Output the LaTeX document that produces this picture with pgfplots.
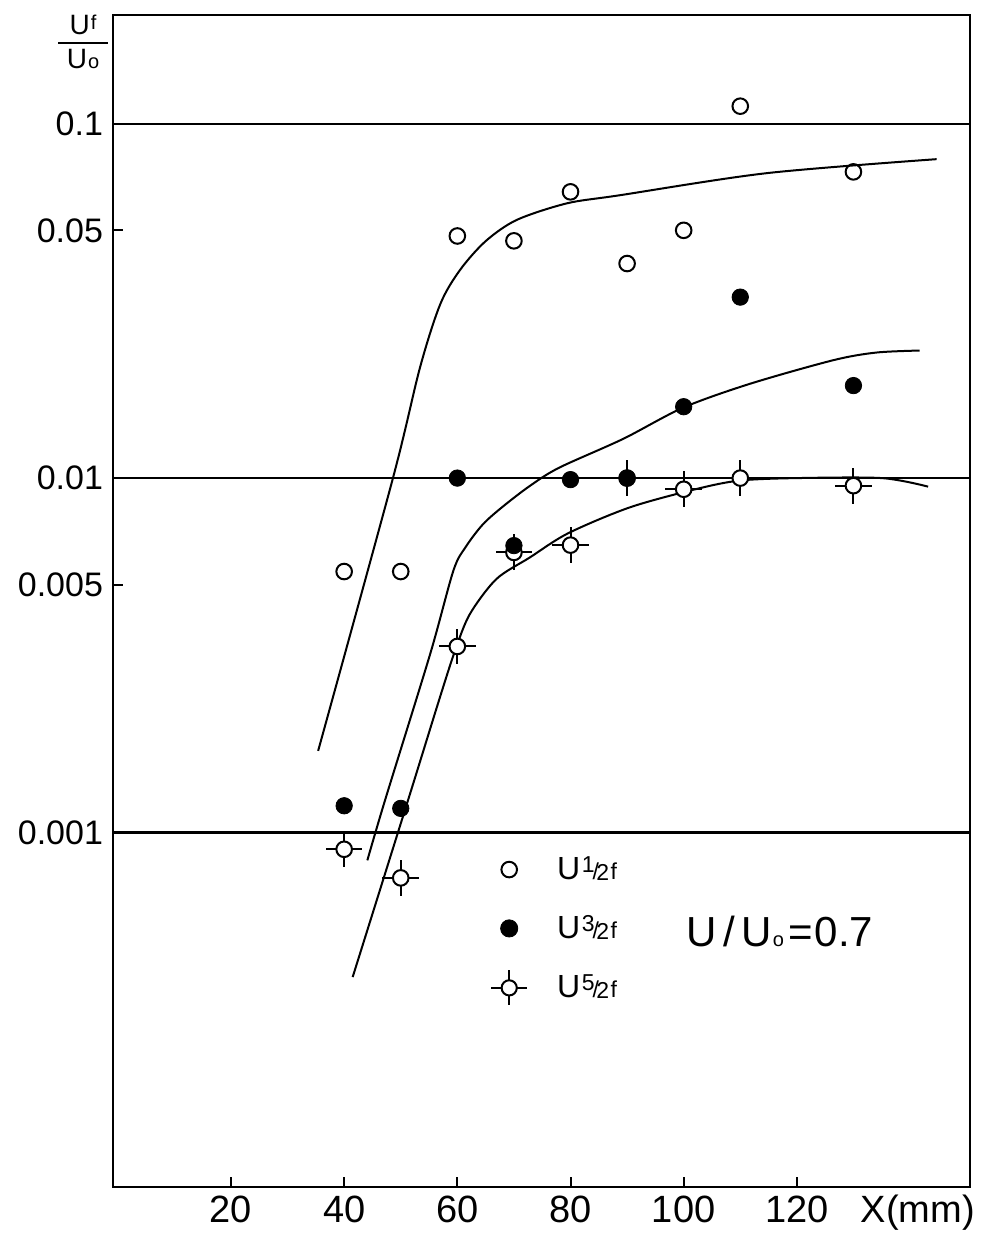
\documentclass[border=0pt]{standalone}
\usepackage{fontspec}
\setmainfont{Liberation Sans}
\usepackage{pgfplots}
\pgfplotsset{compat=1.18}

% open circle with four short spokes (the 5/2 harmonic)
\pgfdeclareplotmark{spokecirc}{%
  \pgfpathmoveto{\pgfqpoint{\pgfplotmarksize}{0pt}}%
  \pgfpathlineto{\pgfqpoint{2.35\pgfplotmarksize}{0pt}}%
  \pgfpathmoveto{\pgfqpoint{-\pgfplotmarksize}{0pt}}%
  \pgfpathlineto{\pgfqpoint{-2.35\pgfplotmarksize}{0pt}}%
  \pgfpathmoveto{\pgfqpoint{0pt}{\pgfplotmarksize}}%
  \pgfpathlineto{\pgfqpoint{0pt}{2.3\pgfplotmarksize}}%
  \pgfpathmoveto{\pgfqpoint{0pt}{-\pgfplotmarksize}}%
  \pgfpathlineto{\pgfqpoint{0pt}{-2.3\pgfplotmarksize}}%
  \pgfusepathqstroke
  \pgfpathcircle{\pgfpointorigin}{\pgfplotmarksize}%
  \pgfusepathqfillstroke
}

% U with a slashed-fraction subscript, e.g. U 1/2 f
\newcommand\harm[2]{{\fontsize{16}{18}\selectfont U\kern0.05em{\fontsize{11.5}{12}\selectfont\raisebox{0.3em}{#1}\kern-0.08em/\kern-0.12em\raisebox{-0.05em}{#2}\kern0.06em f}}}

\begin{document}
\begin{tikzpicture}
\begin{axis}[
  scale only axis,
  width=428.5pt, height=586pt,
  xmin=-0.85, xmax=150.6,
  ymode=log, ymin=1e-4, ymax=0.2025,
  xtick={20,40,60,80,100,120},
  xticklabels={20,40,60,80,100,120},
  ytick={0.005,0.05}, yticklabels={0.005,0.05},
  extra y ticks={0.001,0.01,0.1},
  extra y tick labels={0.001,0.01,0.1},
  extra y tick style={grid=major, major tick length=0pt,
    major grid style={black, line width=1.1pt}},
  yminorticks=false, xminorticks=false,
  tick align=inside, major tick length=5pt,
  xtick pos=left, ytick pos=left,
  tick style={black, line width=1pt},
  axis line style={black, line width=1.3pt},
  yticklabel style={font=\fontsize{17}{20}\selectfont, xshift=-1.5pt},
  xticklabel style={font=\fontsize{19}{22}\selectfont, text height=14pt, text depth=0pt},
  xlabel={X(mm)},
  xlabel style={font=\fontsize{19}{22}\selectfont, text height=14pt, text depth=0pt,
    at={(axis description cs:0.939,0)}, anchor=north},
  ylabel={$\displaystyle{\makebox[25pt]{\fontsize{14}{16}\selectfont U\kern0.04em\raisebox{0.15em}{\fontsize{10}{10}\selectfont f}}\above 1pt\makebox[25pt]{\fontsize{14}{16}\selectfont U\kern0.04em{\fontsize{10}{10}\selectfont o}}}$},
  ylabel style={rotate=-90, at={(axis description cs:-0.035,0.977)}, anchor=center},
  legend style={draw=none, fill=none, at={(rel axis cs:0.434,0.289)}, anchor=north west,
    row sep=12.5pt,
    /tikz/every odd column/.append style={column sep=13pt}},
  legend cell align=left,
]

% fitted curves
\addplot[black, line width=1pt, smooth, forget plot] coordinates {
  (35.4,0.00170) (48.6,0.00997) (53.4,0.0205) (57.0,0.0310) (60.5,0.0387)
  (65.0,0.0466) (70.5,0.0535) (79.4,0.0596) (88.7,0.0628) (114.7,0.0725)
  (144.7,0.0794)};
\addplot[black, line width=1pt, smooth, forget plot] coordinates {
  (44.1,0.000835) (47.2,0.00123) (55.2,0.00319) (59.3,0.00548) (61.5,0.0064)
  (64.5,0.0074) (68.0,0.0083) (72.8,0.0095) (78.0,0.0107) (89.3,0.0129)
  (99.9,0.0158) (111.7,0.01845) (126.4,0.0215) (134,0.0226) (141.7,0.0229)};
\addplot[black, line width=1pt, smooth, forget plot] coordinates {
  (41.5,0.000391) (51.4,0.00125) (56.9,0.0024) (59.6,0.00326) (62.2,0.00413)
  (66.9,0.00519) (72.8,0.00597) (79.6,0.00699) (90.5,0.00827) (102.3,0.00932)
  (109.9,0.00984) (120,0.0100) (135,0.0100) (143.2,0.00946)};

% U 1/2 f
\addplot[only marks, mark=o, mark size=3.9pt, line width=1pt, mark options={fill=white}, forget plot]
  coordinates {(40,0.00545) (50,0.00545) (60,0.0482) (70,0.0467) (80,0.0642)
  (90,0.0403) (100,0.0500) (110,0.112) (130,0.0731)};
% U 5/2 f
\addplot[only marks, mark=spokecirc, mark size=3.9pt, line width=1pt, mark options={fill=white}, forget plot]
  coordinates {(40,0.000897) (50,0.000745) (60,0.00335) (70,0.00617) (80,0.00647)
  (90,0.0100) (100,0.0093) (110,0.0100) (130,0.00952)};
% U 3/2 f
\addplot[only marks, mark=*, mark size=4.1pt, black, forget plot]
  coordinates {(40,0.00119) (50,0.00117) (60,0.0100) (70,0.00645) (80,0.0099)
  (90,0.0100) (100,0.0159) (110,0.0324) (130,0.01824)};

\addlegendimage{only marks, mark=o, mark size=3.9pt, line width=1pt, mark options={fill=white}}
\addlegendentry{\harm{1}{2}}
\addlegendimage{only marks, mark=*, mark size=4.3pt, black}
\addlegendentry{\harm{3}{2}\rule[-14pt]{0pt}{1pt}}
\addlegendimage{only marks, mark=spokecirc, mark size=3.8pt, line width=1pt, mark options={fill=white}}
\addlegendentry{\harm{5}{2}}

\node[font=\fontsize{21}{24}\selectfont, anchor=center] at (axis cs:117,0.000527)
  {U\kern0.15em/\kern0.15em U\kern0.03em{\fontsize{10}{10}\selectfont o}\kern0.1em=\kern0.05em 0.7};
\end{axis}
\pgfresetboundingbox
\path (current axis.south west) ++(-56.5pt,-26.5pt);
\path (current axis.north east) ++(5.5pt,7.5pt);
\end{tikzpicture}
\end{document}
